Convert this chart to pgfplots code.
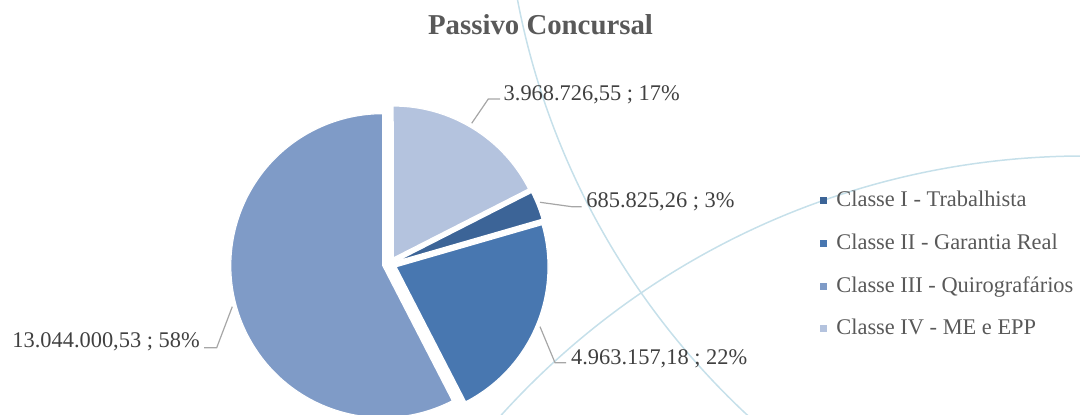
\documentclass[border=0pt]{standalone}
\usepackage{fontspec}
\setmainfont{Liberation Serif}
\usepackage{pgfplots}
\usepackage{pgfplotstable}
\pgfplotsset{compat=1.18}
\definecolor{cI}{HTML}{3C6497}
\definecolor{cII}{HTML}{4877B0}
\definecolor{cIII}{HTML}{7F9BC7}
\definecolor{cIV}{HTML}{B4C3DE}
\definecolor{deco}{HTML}{C6E0EA}
\definecolor{lab}{HTML}{404040}
\definecolor{leg}{HTML}{595959}
\definecolor{lead}{HTML}{A6A6A6}
\pgfplotstableread{
label value
I 685825.26
II 4963157.18
III 13044000.53
IV 3968726.55
}\pietable
\begin{document}
\begin{tikzpicture}
\pgfplotstablegetelem{0}{value}\of\pietable\let\vI\pgfplotsretval
\pgfplotstablegetelem{1}{value}\of\pietable\let\vII\pgfplotsretval
\pgfplotstablegetelem{2}{value}\of\pietable\let\vIII\pgfplotsretval
\pgfplotstablegetelem{3}{value}\of\pietable\let\vIV\pgfplotsretval
\begingroup
\pgfkeys{/pgf/fpu=true,/pgf/fpu/output format=fixed}
\pgfmathparse{\vI+\vII+\vIII+\vIV}\global\let\vT\pgfmathresult
\pgfmathparse{360*\vI/\vT}\global\let\aI\pgfmathresult
\pgfmathparse{360*\vII/\vT}\global\let\aII\pgfmathresult
\pgfmathparse{360*\vIII/\vT}\global\let\aIII\pgfmathresult
\pgfmathparse{360*\vIV/\vT}\global\let\aIV\pgfmathresult
\endgroup
\pgfmathsetmacro\sI{27}
\pgfmathsetmacro\eI{\sI-\aI}\pgfmathsetmacro\mI{\sI-\aI/2}
\pgfmathsetmacro\sII{\eI}
\pgfmathsetmacro\eII{\sII-\aII}\pgfmathsetmacro\mII{\sII-\aII/2}
\pgfmathsetmacro\sIII{\eII}
\pgfmathsetmacro\eIII{\sIII-\aIII}\pgfmathsetmacro\mIII{\sIII-\aIII/2}
\pgfmathsetmacro\sIV{\eIII}
\pgfmathsetmacro\eIV{\sIV-\aIV}\pgfmathsetmacro\mIV{\sIV-\aIV/2}
\def\R{76pt}\def\D{3.5pt}
\begin{axis}[scale only axis, width=540pt, height=207.5pt,
  xmin=0, xmax=1080, ymin=0, ymax=415, hide axis, clip=true]
% decorative background arcs
\draw[deco, line width=0.75pt] (axis cs:1268,559) circle[radius=382pt];
\draw[deco, line width=0.75pt] (axis cs:1084.5,-527) circle[radius=393pt];
% pie slices
\fill[cI, draw=white, line width=0.6pt] ([shift={(\mI:\D)}]axis cs:389.6,151) -- ++(\sI:\R) arc[start angle=\sI, end angle=\eI, radius=\R] -- cycle;
\fill[cII, draw=white, line width=0.6pt] ([shift={(\mII:\D)}]axis cs:389.6,151) -- ++(\sII:\R) arc[start angle=\sII, end angle=\eII, radius=\R] -- cycle;
\fill[cIII, draw=white, line width=0.6pt] ([shift={(\mIII:\D)}]axis cs:389.6,151) -- ++(\sIII:\R) arc[start angle=\sIII, end angle=\eIII, radius=\R] -- cycle;
\fill[cIV, draw=white, line width=0.6pt] ([shift={(\mIV:\D)}]axis cs:389.6,151) -- ++(\sIV:\R) arc[start angle=\sIV, end angle=\eIV, radius=\R] -- cycle;
% leader lines
\draw[lead, line width=0.6pt] (axis cs:471.7,291.7) -- (axis cs:488.3,316) -- (axis cs:500,316);
\draw[lead, line width=0.6pt] (axis cs:540,212.7) -- (axis cs:571.7,208.3) -- (axis cs:581.7,208.3);
\draw[lead, line width=0.6pt] (axis cs:540,88.3) -- (axis cs:555,52.3) -- (axis cs:566,52.3);
\draw[lead, line width=0.6pt] (axis cs:232.3,108.3) -- (axis cs:216.7,67.3) -- (axis cs:204,67.3);
% data labels
\node[anchor=base west, inner sep=0pt, text=lab, font=\fontsize{11.2}{13}\selectfont] at (axis cs:503.3,314.3) {3.968.726,55 ; 17\%};
\node[anchor=base west, inner sep=0pt, text=lab, font=\fontsize{11.2}{13}\selectfont] at (axis cs:586,207.7) {685.825,26 ; 3\%};
\node[anchor=base west, inner sep=0pt, text=lab, font=\fontsize{11.2}{13}\selectfont] at (axis cs:570.7,50.7) {4.963.157,18 ; 22\%};
\node[anchor=base west, inner sep=0pt, text=lab, font=\fontsize{11.2}{13}\selectfont] at (axis cs:12,67.3) {13.044.000,53 ; 58\%};
% title
\node[anchor=base, inner sep=0pt, text=leg, font=\fontsize{14.4}{17}\selectfont\bfseries] at (axis cs:540.5,380) {Passivo Concursal};
% legend
\fill[cI] ([shift={(-1.75pt,-1.75pt)}]axis cs:823.3,214.3) rectangle ++(3.5pt,3.5pt);
\fill[cII] ([shift={(-1.75pt,-1.75pt)}]axis cs:823.3,171.6) rectangle ++(3.5pt,3.5pt);
\fill[cIII] ([shift={(-1.75pt,-1.75pt)}]axis cs:823.3,128.9) rectangle ++(3.5pt,3.5pt);
\fill[cIV] ([shift={(-1.75pt,-1.75pt)}]axis cs:823.3,86.2) rectangle ++(3.5pt,3.5pt);
\node[anchor=base west, inner sep=0pt, text=leg, font=\fontsize{11.2}{13}\selectfont] at (axis cs:836,208.3) {Classe I - Trabalhista};
\node[anchor=base west, inner sep=0pt, text=leg, font=\fontsize{11.2}{13}\selectfont] at (axis cs:836,165.6) {Classe II - Garantia Real};
\node[anchor=base west, inner sep=0pt, text=leg, font=\fontsize{11.2}{13}\selectfont] at (axis cs:836,122.9) {Classe III - Quirografários};
\node[anchor=base west, inner sep=0pt, text=leg, font=\fontsize{11.2}{13}\selectfont] at (axis cs:836,80.2) {Classe IV - ME e EPP};
\end{axis}
\pgfresetboundingbox
\useasboundingbox (current axis.south west) rectangle (current axis.north east);
\end{tikzpicture}
\end{document}
